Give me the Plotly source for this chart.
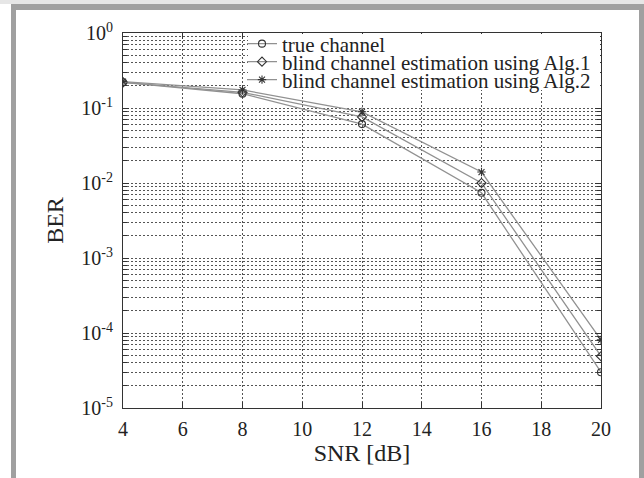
import plotly.graph_objects as go

snr = [4, 8, 12, 16, 20]
ber_true = [0.22, 0.155, 0.061, 0.0074, 3.0e-5]
ber_alg1 = [0.22, 0.162, 0.076, 0.010, 4.9e-5]
ber_alg2 = [0.225, 0.174, 0.089, 0.014, 8.1e-5]
names = ["true channel", "blind channel estimation using Alg.1", "blind channel estimation using Alg.2"]
ytick_vals = [1e-5, 1e-4, 1e-3, 1e-2, 1e-1, 1]
ytick_text = ["10<sup>-5</sup>", "10<sup>-4</sup>", "10<sup>-3</sup>", "10<sup>-2</sup>", "10<sup>-1</sup>", "10<sup>0</sup>"]
xtick_vals = [4, 6, 8, 10, 12, 14, 16, 18, 20]

W, H = 644, 478
L, R, T, B = 123, 43, 33, 70
pw, ph = W - L - R, H - T - B

def px(x):
    return (x - L) / pw

def py(y):
    return (H - B - y) / ph

FONT = "Liberation Serif, Times New Roman, serif"
line_col = "#919191"
mk_col = "#333333"
frame_col = "#a0a0a0"
legend_ids = ["legend", "legend2", "legend3"]
legend_rows = [44, 62, 80]

fig = go.Figure()
for ys, nm, sym, lg in zip([ber_true, ber_alg1, ber_alg2], names,
                           ["circle-open", "diamond-open", "asterisk-open"], legend_ids):
    fig.add_trace(go.Scatter(
        x=snr, y=ys, name=nm, mode="lines+markers", legend=lg,
        line=dict(color=line_col, width=1.3),
        marker=dict(symbol=sym, size=7, color=mk_col, line=dict(color=mk_col, width=1.1)),
    ))

grid_col = "#555555"
fig.update_xaxes(
    range=[4, 20], tickvals=xtick_vals, ticks="inside", ticklen=6, tickcolor="#333",
    showline=True, linecolor="#333", linewidth=1, mirror="ticks",
    showgrid=True, gridcolor=grid_col, griddash="2px,2px", gridwidth=1,
    zeroline=False, title=dict(text="SNR [dB]", standoff=4),
    tickfont=dict(size=20), ticklabelstandoff=3,
)
fig.update_yaxes(
    type="log", range=[-5, 0], tickvals=ytick_vals, ticktext=ytick_text,
    ticks="inside", ticklen=6, tickcolor="#333",
    showline=True, linecolor="#333", linewidth=1, mirror="ticks",
    showgrid=True, gridcolor=grid_col, griddash="2px,2px", gridwidth=1,
    minor=dict(dtick="D1", showgrid=True, gridcolor=grid_col, griddash="2px,2px",
               gridwidth=1, ticks="inside", ticklen=4, tickcolor="#333"),
    zeroline=False, title=dict(text="BER", standoff=10),
    tickfont=dict(size=20), ticklabelstandoff=5,
)

# outer frame as filled bands (pixel boxes converted to paper units)
frame_bands = [
    (0, 644, 0, 4, "#e6e6e6"),
    (11, 644, 4, 10, frame_col),
    (11, 16, 4, 478, frame_col),
    (639, 644, 4, 478, frame_col),
]
for x0, x1, y0, y1, col in frame_bands:
    fig.add_shape(type="rect", xref="paper", yref="paper",
                  x0=px(x0), x1=px(x1), y0=py(y1), y1=py(y0),
                  line=dict(width=0), fillcolor=col, layer="above")
# legend box background
fig.add_shape(type="rect", xref="paper", yref="paper",
              x0=px(248), x1=px(600), y0=py(90), y1=py(34),
              line=dict(width=0), fillcolor="white", layer="above")

leg_common = dict(xanchor="left", yanchor="middle", bgcolor="rgba(0,0,0,0)",
                  borderwidth=0, itemwidth=30, font=dict(size=21))
layout_legends = {}
for lg, row in zip(legend_ids, legend_rows):
    layout_legends[lg] = dict(x=px(242), y=py(row), **leg_common)

fig.update_layout(
    width=W, height=H,
    margin=dict(l=L, r=R, t=T, b=B),
    paper_bgcolor="white", plot_bgcolor="white",
    font=dict(family=FONT, size=20, color="#222"),
    showlegend=True,
    **layout_legends,
)

post = ("document.body.style.margin='0px';"
        "document.body.style.padding='0px';"
        "document.documentElement.style.overflow='hidden';"
        "window.scrollTo(0,0);")
fig.write_html("out.html", config={"displayModeBar": False}, post_script=post)
